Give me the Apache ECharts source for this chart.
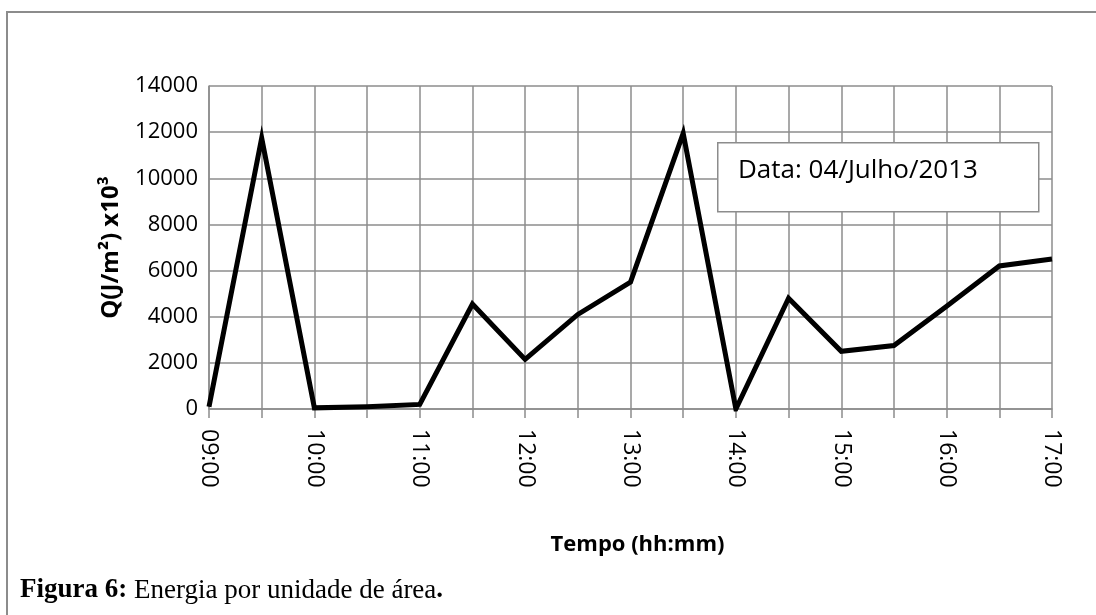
<!DOCTYPE html>
<html>
<head>
<meta charset="utf-8">
<script src="https://cdn.jsdelivr.net/npm/echarts@6/dist/echarts.min.js"></script>
<style>
html,body{margin:0;padding:0;background:#fff;}
#main{width:1096px;height:615px;}
</style>
</head>
<body>
<div id="main"></div>
<script>
const categories = ["09:00","09:30","10:00","10:30","11:00","11:30","12:00","12:30","13:00","13:30","14:00","14:30","15:00","15:30","16:00","16:30","17:00"];
const energy = [100, 11750, 50, 100, 200, 4550, 2150, 4100, 5500, 11950, 0, 4800, 2500, 2750, 4450, 6200, 6500];
const yTicks = [0, 2000, 4000, 6000, 8000, 10000, 12000, 14000];
const annotationText = "Data: 04/Julho/2013";
const xTitle = "Tempo (hh:mm)";
const yTitle = "Q(J/m²) x10³";

const chart = echarts.init(document.getElementById('main'));
const grey = '#8c8c8c';
chart.setOption({
  animation: false,
  backgroundColor: '#fff',
  grid: {left: 209, right: 44, top: 86, bottom: 206, containLabel: false},
  xAxis: {
    type: 'category',
    data: categories,
    boundaryGap: false,
    name: xTitle,
    nameLocation: 'middle',
    nameGap: 125,
    nameTextStyle: {fontFamily: 'Open Sans', fontWeight: 'bold', fontSize: 22, color: '#000', padding: [0, 0, 0, 14]},
    axisLine: {lineStyle: {color: grey, width: 1.5}},
    axisTick: {show: true, interval: 0, length: 9, lineStyle: {color: grey, width: 1.5}},
    axisLabel: {interval: 1, rotate: -90, margin: 20, fontFamily: 'Open Sans', fontSize: 23, color: '#000'},
    splitLine: {show: true, interval: 0, lineStyle: {color: grey, width: 1.5}}
  },
  yAxis: {
    type: 'value',
    min: yTicks[0],
    max: yTicks[yTicks.length - 1],
    interval: yTicks[1] - yTicks[0],
    name: yTitle,
    nameLocation: 'middle',
    nameGap: 86,
    nameTextStyle: {fontFamily: 'Open Sans', fontWeight: 'bold', fontSize: 24, color: '#000'},
    axisLine: {show: true, lineStyle: {color: grey, width: 1.5}},
    axisTick: {show: false},
    axisLabel: {margin: 11, fontFamily: 'Open Sans', fontSize: 22, color: '#000', formatter: v => String(v)},
    splitLine: {show: true, lineStyle: {color: grey, width: 1.5}}
  },
  series: [{
    type: 'line',
    data: energy,
    symbol: 'none',
    lineStyle: {color: '#000', width: 5, join: 'miter', miterLimit: 20}
  }],
  graphic: [
    {type: 'rect', left: 6, top: 11, z: -10, silent: true,
     shape: {width: 1200, height: 700},
     style: {fill: 'transparent', stroke: '#8c8c8c', lineWidth: 2}},
    {type: 'rect', left: 717, top: 142, z: 100,
     shape: {width: 321, height: 69},
     style: {fill: '#fff', stroke: '#8c8c8c', lineWidth: 1.5}},
    {type: 'text', left: 738, top: 158, z: 101,
     style: {text: annotationText, fontFamily: 'Open Sans', fontSize: 26, fill: '#000'}},
    {type: 'text', left: 20, top: 577, z: 101,
     style: {
       text: '{b|Figura 6:} Energia por unidade de área{b|.}',
       rich: {b: {fontFamily: 'Liberation Serif', fontWeight: 'bold', fontSize: 27, fill: '#000'}},
       fontFamily: 'Liberation Serif', fontSize: 27, fill: '#000'
     }}
  ]
});
</script>
</body>
</html>
